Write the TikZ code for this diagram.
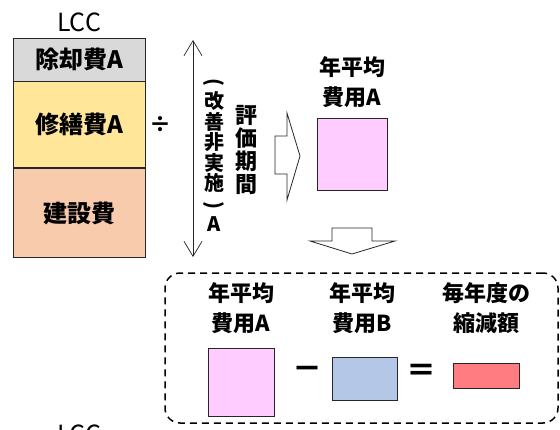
\documentclass[tikz,border=0pt]{standalone}
\usepackage{fontspec}
\setmainfont{Noto Sans CJK JP}
\usepackage{xcolor}
\usepackage{graphicx}
\usepackage{tikz}
\usetikzlibrary{positioning,calc,arrows.meta}
\definecolor{LCCGray}{RGB}{217,217,217}
\definecolor{LCCYellow}{RGB}{255,230,153}
\definecolor{LCCPeach}{RGB}{248,203,173}
\definecolor{AvgPink}{RGB}{255,204,255}
\definecolor{AvgBlue}{RGB}{180,199,231}
\definecolor{CutRed}{RGB}{255,124,128}
\newcommand{\vparen}[1]{\rotatebox[origin=c]{-90}{#1}}

\begin{document}
\begin{tikzpicture}[x=1pt, y=-1pt, node distance=0pt]
  \tikzstyle{layer} = [rectangle, draw=black!85, line width=0.8pt, minimum width=132pt, inner sep=0pt, font=\fontsize{24}{28}\selectfont\bfseries]
  \tikzstyle{costsq} = [rectangle, draw=black!85, line width=0.8pt, inner sep=0pt]
  \tikzstyle{lbl} = [align=center, inner sep=0pt, font=\fontsize{22}{30}\selectfont\bfseries]
  \tikzstyle{op} = [inner sep=0pt, font=\fontsize{30}{30}\selectfont\bfseries]
  \tikzstyle{vtext} = [align=center, inner sep=0pt]
  \tikzstyle{fat} = [draw=black!85, line width=0.8pt, fill=white]
  \tikzstyle{span} = [draw=black!85, line width=0.7pt, {Straight Barb[length=15pt,width=18pt]}-{Straight Barb[length=15pt,width=18pt]}]
  \tikzstyle{frame} = [rectangle, draw, dash pattern=on 7pt off 5pt, line width=1.5pt, rounded corners=15pt, inner sep=0pt]

  \useasboundingbox (0,0) rectangle (560,429);

  % LCC stack
  \node [font=\fontsize{25}{25}\selectfont] (lcc) at (79,22) {LCC};
  \node [layer, fill=LCCGray, minimum height=43pt] (removal) at (79,59.5) {除却費A};
  \node [layer, fill=LCCYellow, minimum height=86pt, below=of removal] (repair) {修繕費A};
  \node [layer, fill=LCCPeach, minimum height=89pt, below=of repair] (build) {建設費};
  \node [font=\fontsize{22}{22}\selectfont\bfseries] (divide) at (160,125) {÷};

  % evaluation period
  \coordinate (spantop) at (193,40);
  \coordinate (spanbot) at (193,257);
  \draw [span] (spantop) -- (spanbot);
  \node [vtext, font=\fontsize{20}{20.5}\selectfont\bfseries] (notdone) at (214,155) {\vparen{(}\\改\\善\\非\\実\\施\\\vparen{)}\\A};
  \node [vtext, font=\fontsize{22}{23}\selectfont\bfseries] (period) at (246,150) {評\\価\\期\\間};

  % block arrow right
  \draw [fat] (275,136) -- (287,136) -- (287,113) -- (300,156) -- (287,200) -- (287,174) -- (275,174) -- cycle;

  % average cost A
  \node [lbl] (avgtxt) at (352,82) {年平均\\費用A};
  \node [costsq, fill=AvgPink, minimum width=70pt, minimum height=72pt] (avgsq) at (352,154) {};

  % block arrow down
  \draw [fat] (332,228) -- (372,228) -- (372,241) -- (395,241) -- (352,254) -- (310,241) -- (332,241) -- cycle;

  % yearly reduction
  \node [frame, minimum width=393pt, minimum height=150pt] (result) at (361.5,348) {};
  \node [lbl] (atxt) at (241,308) {年平均\\費用A};
  \node [lbl] (btxt) at (362,308) {年平均\\費用B};
  \node [lbl] (ctxt) at (486,308) {毎年度の\\縮減額};
  \node [costsq, fill=AvgPink, minimum width=66pt, minimum height=68pt] (asq) at (241,382) {};
  \node [costsq, fill=AvgBlue, minimum width=65pt, minimum height=43pt] (bsq) at (364.5,378.5) {};
  \node [costsq, fill=CutRed, minimum width=66pt, minimum height=25pt] (csq) at (486,375.5) {};
  \node [op] (minus) at (307,373) {－};
  \node [op] (equal) at (421,373) {＝};
  \node [font=\fontsize{25}{25}\selectfont] (lccnext) at (79,434) {LCC};
\end{tikzpicture}
\end{document}
